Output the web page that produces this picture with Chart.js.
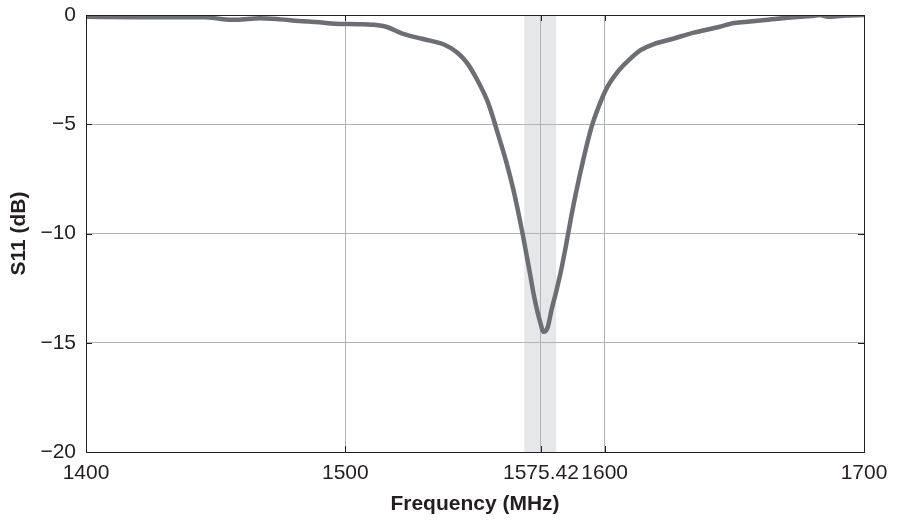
<!DOCTYPE html>
<html>
<head>
<meta charset="utf-8">
<script src="https://cdn.jsdelivr.net/npm/chart.js@4.4.1/dist/chart.umd.min.js"></script>
<style>
  html, body { margin: 0; padding: 0; background: #fff; }
  #wrap { width: 899px; height: 521px; }
</style>
</head>
<body>
<div id="wrap"><canvas id="grafico"></canvas></div>
<script>
// datos
const frecuencias = [1400, 1420, 1446, 1452, 1458, 1467, 1475, 1482, 1490, 1496, 1505, 1511, 1516, 1522, 1530, 1538, 1543, 1547, 1551, 1555, 1559, 1562, 1565, 1568, 1571, 1573, 1575, 1576.5, 1578, 1579.5, 1581, 1583, 1585, 1587, 1589, 1592, 1595, 1598, 1601, 1605, 1609, 1614, 1619, 1626, 1634, 1644, 1650, 1656, 1663, 1673, 1680, 1683, 1686, 1692, 1700];
const s11 = [-0.08, -0.1, -0.1, -0.18, -0.22, -0.15, -0.2, -0.27, -0.33, -0.4, -0.42, -0.45, -0.55, -0.85, -1.1, -1.35, -1.7, -2.2, -3.0, -4.0, -5.5, -6.7, -8.1, -9.8, -11.7, -13.0, -14.0, -14.5, -14.3, -13.5, -12.8, -11.8, -10.6, -9.3, -8.1, -6.5, -5.1, -4.1, -3.3, -2.6, -2.1, -1.6, -1.33, -1.1, -0.82, -0.55, -0.37, -0.3, -0.22, -0.1, -0.05, 0, -0.08, -0.03, 0];
const ticksX = [1400, 1500, 1575.42, 1600, 1700];
const ticksY = [0, -5, -10, -15, -20];
const banda = [1569, 1581.3];
const fuente = "'Liberation Sans', Arial, sans-serif";

// banda gris y caja con marcas
const decoracion = {
    id: 'decoracion',
    beforeDraw(chart) {
        const { ctx, chartArea: a, scales: { x } } = chart;
        ctx.save();
        ctx.fillStyle = '#e6e7e8';
        const x0 = x.getPixelForValue(banda[0]);
        const x1 = x.getPixelForValue(banda[1]);
        ctx.fillRect(x0, a.top, x1 - x0, a.bottom - a.top);
        ctx.restore();
    },
    afterDraw(chart) {
        const { ctx, chartArea: a, scales: { x, y } } = chart;
        ctx.save();
        ctx.strokeStyle = '#231f20';
        ctx.lineWidth = 1;
        ctx.beginPath();
        ticksX.forEach(v => {
            const px = Math.round(x.getPixelForValue(v)) + 0.5;
            ctx.moveTo(px, a.bottom); ctx.lineTo(px, a.bottom - 6);
            ctx.moveTo(px, a.top); ctx.lineTo(px, a.top + 6);
        });
        ticksY.forEach(v => {
            const py = Math.round(y.getPixelForValue(v)) + 0.5;
            ctx.moveTo(a.left, py); ctx.lineTo(a.left + 6, py);
            ctx.moveTo(a.right, py); ctx.lineTo(a.right - 6, py);
        });
        ctx.stroke();
        ctx.strokeRect(Math.round(a.left) + 0.5, Math.round(a.top) + 0.5, Math.round(a.right - a.left), Math.round(a.bottom - a.top));
        ctx.restore();
    }
};

const ctx = document.getElementById('grafico').getContext('2d');
new Chart(ctx, {
    type: 'line',
    data: {
        datasets: [{
            data: frecuencias.map((f, i) => ({ x: f, y: s11[i] })),
            borderColor: '#6d6e71',
            borderWidth: 4.5,
            pointRadius: 0,
            fill: false,
            cubicInterpolationMode: 'monotone'
        }]
    },
    options: {
        responsive: true,
        maintainAspectRatio: false,
        animation: false,
        layout: { padding: { top: 15, right: 35, left: 0, bottom: 0 } },
        plugins: { legend: { display: false }, tooltip: { enabled: false } },
        scales: {
            x: {
                type: 'linear',
                min: 1400,
                max: 1700,
                afterBuildTicks: s => { s.ticks = ticksX.map(v => ({ value: v })); },
                afterFit: s => { s.height = 69; s.paddingLeft = 0; s.paddingRight = 0; },
                grid: { color: '#b1b3b6', drawTicks: false },
                border: { display: false },
                ticks: {
                    color: '#231f20',
                    padding: 9,
                    maxRotation: 0,
                    autoSkip: false,
                    font: { family: fuente, size: 21 },
                    callback: v => String(v)
                },
                title: {
                    display: true,
                    text: 'Frequency (MHz)',
                    color: '#231f20',
                    padding: { top: 0, bottom: 4 },
                    font: { family: fuente, size: 21, weight: 'bold' }
                }
            },
            y: {
                min: -20,
                max: 0,
                afterBuildTicks: s => { s.ticks = ticksY.map(v => ({ value: v })); },
                afterFit: s => { s.width = 86; s.paddingTop = 0; s.paddingBottom = 0; },
                grid: { color: '#b1b3b6', drawTicks: false },
                border: { display: false },
                ticks: {
                    color: '#231f20',
                    padding: 10,
                    font: { family: fuente, size: 21 },
                    callback: v => v < 0 ? '\u2212' + Math.abs(v) : String(v)
                },
                title: {
                    display: true,
                    text: 'S11 (dB)',
                    color: '#231f20',
                    padding: { top: 7, bottom: 0 },
                    font: { family: fuente, size: 21, weight: 'bold' }
                }
            }
        }
    },
    plugins: [decoracion]
});
</script>
</body>
</html>
